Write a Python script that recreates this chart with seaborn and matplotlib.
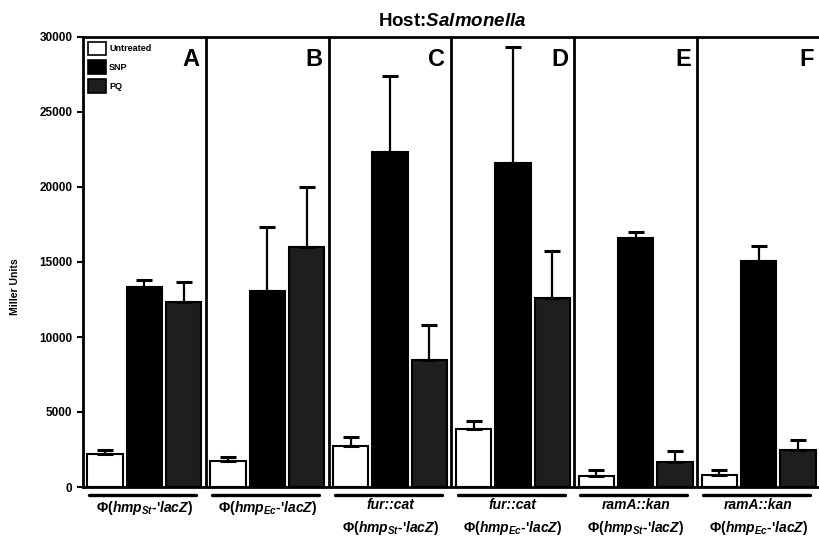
import numpy as np
import pandas as pd
import matplotlib
matplotlib.use("Agg")
import matplotlib.pyplot as plt
import matplotlib.transforms as mtransforms
from matplotlib.patches import Patch
import seaborn as sns

# data
panels = ["A", "B", "C", "D", "E", "F"]
treatments = ["Untreated", "SNP", "PQ"]
untreated = [2200, 1730, 2750, 3870, 760, 820]
untreated_err = [270, 250, 580, 530, 370, 310]
snp = [13350, 13070, 22310, 21580, 16580, 15070]
snp_err = [450, 4280, 5090, 7770, 400, 1020]
pq = [12330, 15980, 8470, 12580, 1690, 2470]
pq_err = [1340, 4040, 2330, 3170, 710, 660]
mutants = ["", "", "fur::cat", "fur::cat", "ramA::kan", "ramA::kan"]
hmp_source = ["St", "Ec", "St", "Ec", "St", "Ec"]
yticks = [0, 5000, 10000, 15000, 20000, 25000, 30000]

df = pd.DataFrame({
    "panel": panels * 3,
    "treatment": np.repeat(treatments, len(panels)),
    "value": untreated + snp + pq,
})
errs = [untreated_err, snp_err, pq_err]

sns.set_style("ticks")
plt.rcParams["font.family"] = ["Liberation Sans", "DejaVu Sans"]
plt.rcParams["font.weight"] = "bold"
plt.rcParams["mathtext.fontset"] = "custom"
plt.rcParams["mathtext.rm"] = "Liberation Sans:bold"
plt.rcParams["mathtext.it"] = "Liberation Sans:italic:bold"
plt.rcParams["mathtext.bf"] = "Liberation Sans:bold"
for k in ["text.color", "axes.labelcolor", "xtick.color", "ytick.color", "axes.edgecolor"]:
    plt.rcParams[k] = "black"

colors = {"Untreated": "white", "SNP": "black", "PQ": "#1e1e1e"}

fig = plt.figure(figsize=(8.2, 5.4), dpi=100)
ax = fig.add_axes([83 / 820, 53 / 540, 737 / 820, 450 / 540])

sns.barplot(data=df, x="panel", y="value", hue="treatment", hue_order=treatments,
            palette=colors, order=panels, errorbar=None, width=0.96, gap=0.1,
            edgecolor="black", linewidth=1.5, legend=False, ax=ax)

# one-sided error bars
for cont, err in zip(ax.containers, errs):
    xs = [p.get_x() + p.get_width() / 2 for p in cont]
    ys = [p.get_height() for p in cont]
    ax.errorbar(xs, ys, yerr=[np.zeros(len(err)), err], fmt="none", ecolor="black",
                elinewidth=1.6, capsize=5.5, capthick=2.2, zorder=1)

ax.set_xlim(-0.5, 5.5)
ax.set_ylim(0, 30000)
ax.set_yticks(yticks)
ax.set_yticklabels([str(t) for t in yticks], fontsize=8.5, fontweight="bold")
ax.set_xticks([])
ax.set_xlabel("")
ax.set_ylabel("")
ax.tick_params(axis="y", direction="out", length=4, width=1.5)
for s in ax.spines.values():
    s.set_linewidth(2)

# panel dividers and letters
for i in range(1, len(panels)):
    ax.axvline(i - 0.5, color="black", lw=2)
trans = mtransforms.blended_transform_factory(ax.transData, ax.transAxes)
for i, p in enumerate(panels):
    ax.text(i + 0.45, 0.975, p, transform=trans, ha="right", va="top",
            fontsize=17, fontweight="bold")

# group labels under the axis
for i in range(len(panels)):
    ax.plot([i - 0.45, i + 0.42], [-0.018, -0.018], transform=trans, color="black",
            lw=2.4, clip_on=False)
    fusion = r"$\Phi$($hmp_{%s}$-'$lacZ$)" % hmp_source[i]
    if mutants[i]:
        ax.text(i, -0.04, mutants[i], transform=trans, ha="center", va="center",
                fontsize=10, fontweight="bold", style="italic")
        ax.text(i, -0.091, fusion, transform=trans, ha="center", va="center",
                fontsize=10, fontweight="bold")
    else:
        ax.text(i, -0.047, fusion, transform=trans, ha="center", va="center",
                fontsize=10, fontweight="bold")

handles = [Patch(facecolor=colors[t], edgecolor="black", linewidth=1.2, label=t)
           for t in treatments]
ax.legend(handles=handles, loc="upper left", frameon=False, fontsize=6.5,
          handlelength=2.0, handleheight=2.0, labelspacing=0.55,
          handletextpad=0.4, borderaxespad=0.2, borderpad=0.3)

fig.text(0.552, 1 - 22 / 540, r"Host:$Salmonella$", ha="center", va="center",
         fontsize=13.5, fontweight="bold")
fig.text(15 / 820, 1 - 287 / 540, "Miller Units", rotation=90, ha="center",
         va="center", fontsize=7.5, fontweight="bold")

fig.savefig("out.png", dpi=100)
